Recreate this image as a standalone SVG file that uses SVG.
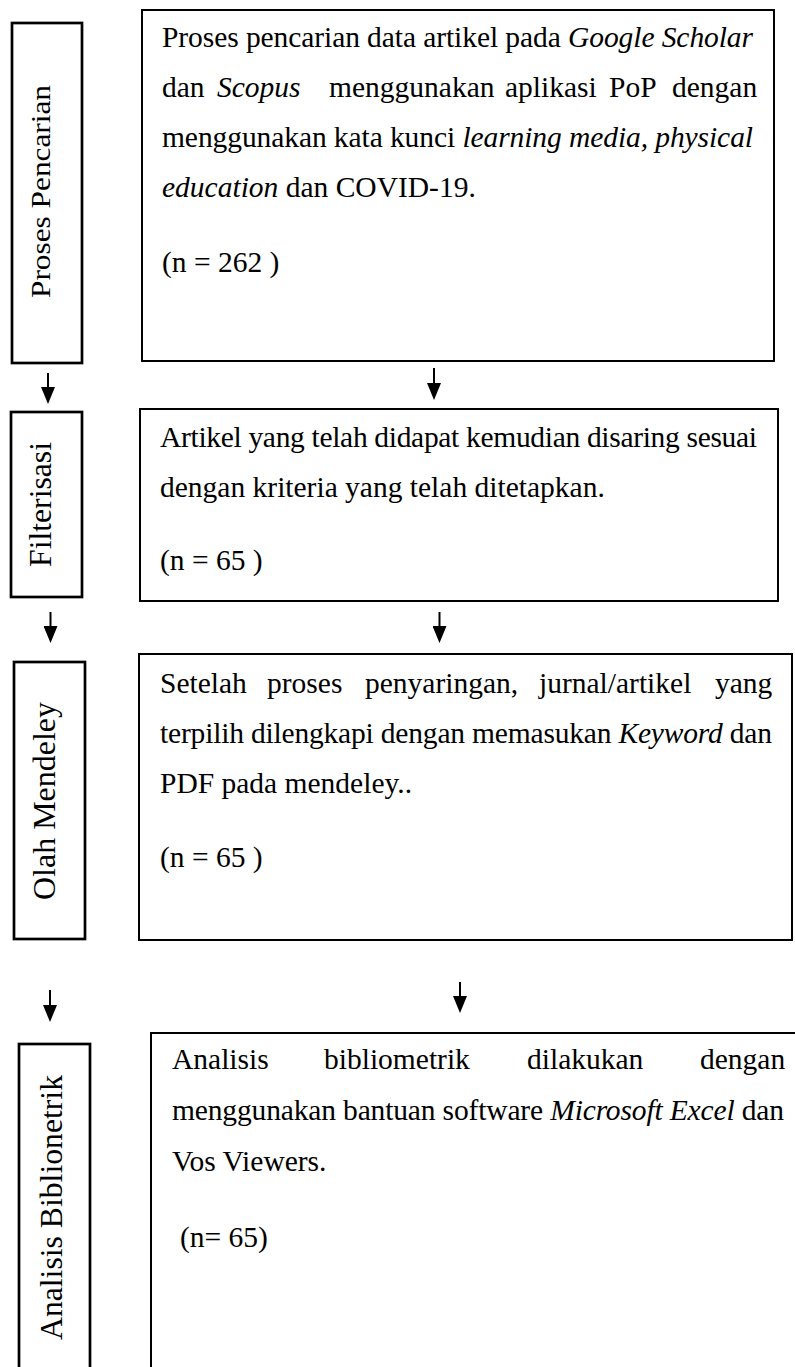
<svg xmlns="http://www.w3.org/2000/svg" width="795" height="1367" viewBox="0 0 795 1367">
<style>
.lbl{fill:#fff;stroke:#000;stroke-width:2.7}
.box{fill:#fff;stroke:#000;stroke-width:2}
.t{font-family:"Liberation Serif","Times New Roman",serif;font-size:29.5px;fill:#000}
.v{font-family:"Liberation Serif","Times New Roman",serif;font-size:32px;fill:#000;text-anchor:middle}
.i{font-style:italic}
.ar{stroke:#000;stroke-width:2;fill:none;marker-end:url(#ah)}
</style>
<defs>
<marker id="ah" viewBox="0 0 17 14" markerWidth="17" markerHeight="14" refX="6" refY="7" orient="auto" markerUnits="userSpaceOnUse">
<path d="M0,0 L17,7 L0,14 z" fill="#000"/>
</marker>
</defs>

<g id="label-proses-pencarian">
<rect class="lbl" x="12" y="23" width="70" height="340"/>
<text class="v" style="font-size:27px" transform="translate(50,191.5) rotate(-90)" textLength="213" lengthAdjust="spacingAndGlyphs">Proses Pencarian</text>
</g>
<g id="box-pencarian">
<rect class="box" x="142" y="10" width="632" height="351"/>
<text class="t" x="162" y="47" textLength="591" lengthAdjust="spacing">Proses pencarian data artikel pada <tspan class="i">Google Scholar</tspan></text>
<text class="t" y="97"><tspan x="162">dan</tspan><tspan x="217" class="i">Scopus</tspan><tspan x="329">menggunakan</tspan><tspan x="505">aplikasi</tspan><tspan x="609">PoP</tspan><tspan x="672">dengan</tspan></text>
<text class="t" x="162" y="147" textLength="591" lengthAdjust="spacing">menggunakan kata kunci <tspan class="i">learning media, physical</tspan></text>
<text class="t" x="162" y="197"><tspan class="i">education</tspan> dan COVID-19.</text>
<text class="t" x="162" y="272">(n = 262 )</text>
</g>

<g id="label-filterisasi">
<rect class="lbl" x="11" y="412" width="71" height="185"/>
<text class="v" transform="translate(51,504.5) rotate(-90)" textLength="125" lengthAdjust="spacingAndGlyphs">Filterisasi</text>
</g>
<g id="box-filterisasi">
<rect class="box" x="140" y="409" width="638" height="192"/>
<text class="t" x="160" y="447" textLength="597" lengthAdjust="spacing">Artikel yang telah didapat kemudian disaring sesuai</text>
<text class="t" x="160" y="497">dengan kriteria yang telah ditetapkan.</text>
<text class="t" x="160" y="570">(n = 65 )</text>
</g>

<g id="label-olah-mendeley">
<rect class="lbl" x="14" y="662" width="71" height="277"/>
<text class="v" transform="translate(55,801) rotate(-90)" textLength="198" lengthAdjust="spacingAndGlyphs">Olah Mendeley</text>
</g>
<g id="box-mendeley">
<rect class="box" x="139" y="654" width="653" height="286"/>
<text class="t" y="693"><tspan x="160">Setelah</tspan><tspan x="267">proses</tspan><tspan x="365">penyaringan,</tspan><tspan x="539">jurnal/artikel</tspan><tspan x="715">yang</tspan></text>
<text class="t" x="160" y="743" textLength="612" lengthAdjust="spacing">terpilih dilengkapi dengan memasukan <tspan class="i">Keyword</tspan> dan</text>
<text class="t" x="160" y="793">PDF pada mendeley..</text>
<text class="t" x="160" y="867">(n = 65 )</text>
</g>

<g id="label-analisis">
<rect class="lbl" x="19" y="1044" width="71" height="340"/>
<text class="v" transform="translate(62,1207.5) rotate(-90)" textLength="265" lengthAdjust="spacingAndGlyphs">Analisis Biblionetrik</text>
</g>
<g id="box-analisis">
<rect class="box" x="151" y="1033" width="660" height="360"/>
<text class="t" y="1069"><tspan x="172">Analisis</tspan><tspan x="324">bibliometrik</tspan><tspan x="527">dilakukan</tspan><tspan x="700">dengan</tspan></text>
<text class="t" x="172" y="1120" textLength="612" lengthAdjust="spacing">menggunakan bantuan software <tspan class="i">Microsoft Excel</tspan> dan</text>
<text class="t" x="172" y="1171">Vos Viewers.</text>
<text class="t" x="180" y="1247">(n= 65)</text>
</g>

<g id="connectors">
<line class="ar" x1="48" y1="373" x2="48" y2="393"/>
<line class="ar" x1="434" y1="368" x2="434" y2="389"/>
<line class="ar" x1="50.5" y1="612" x2="50.5" y2="632"/>
<line class="ar" x1="439.5" y1="612" x2="439.5" y2="632"/>
<line class="ar" x1="50" y1="990" x2="50" y2="1011"/>
<line class="ar" x1="460" y1="982" x2="460" y2="1002"/>
</g>
</svg>
